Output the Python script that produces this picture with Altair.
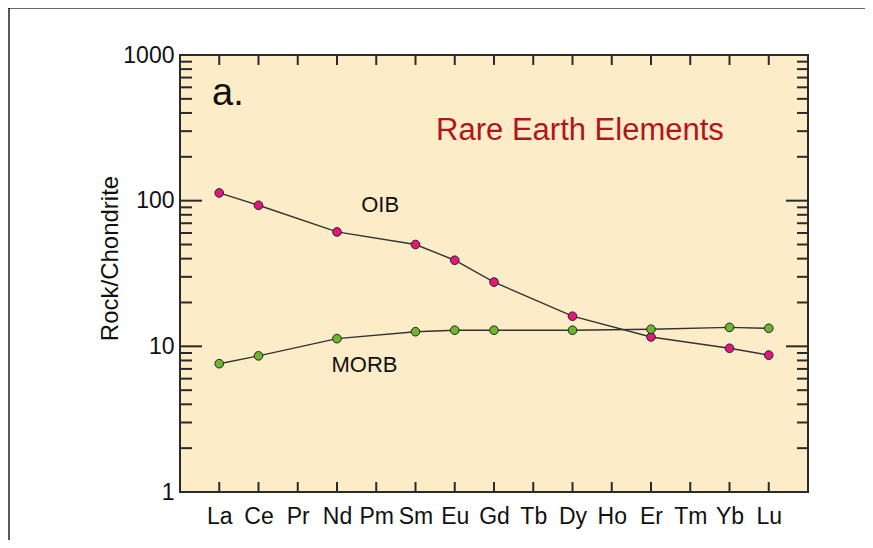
import altair as alt
import pandas as pd

# ---- data ----
elements = ["La", "Ce", "Pr", "Nd", "Pm", "Sm", "Eu", "Gd", "Tb", "Dy", "Ho", "Er", "Tm", "Yb", "Lu"]
oib_elements = ["La", "Ce", "Nd", "Sm", "Eu", "Gd", "Dy", "Er", "Yb", "Lu"]
oib_values = [113, 93, 61, 50, 39, 27.6, 16.1, 11.6, 9.7, 8.7]
morb_elements = ["La", "Ce", "Nd", "Sm", "Eu", "Gd", "Dy", "Er", "Yb", "Lu"]
morb_values = [7.6, 8.6, 11.3, 12.6, 12.9, 12.9, 12.9, 13.1, 13.5, 13.3]
series_names = ["OIB", "MORB"]
series_colors = ["#e3177f", "#6cb52e"]

y_major = [1, 10, 100, 1000]
y_minor = [m * d for d in (1, 10, 100) for m in range(2, 10)]

# annotations (position in data units)
panel_label = {"text": "a.", "x": 0.22, "y": 540}
title_label = {"text": "Rare Earth Elements", "x": 9.19, "y": 300}
series_labels_text = ["OIB", "MORB"]
series_labels_x = [4.10, 3.70]
series_labels_y = [93, 7.44]

FONT = "Liberation Sans"
W, H = 628, 437

rows = []
for e, v in zip(oib_elements, oib_values):
    rows.append({"series": "OIB", "element": e, "idx": elements.index(e), "value": v})
for e, v in zip(morb_elements, morb_values):
    rows.append({"series": "MORB", "element": e, "idx": elements.index(e), "value": v})
df = pd.DataFrame(rows)

xscale = alt.Scale(domain=[-1, 15], nice=False, zero=False)
yscale = alt.Scale(type="log", domain=[1, 1000], nice=False)

label_array = "[" + ",".join("'%s'" % e for e in elements) + "]"
xaxis = alt.Axis(values=list(range(len(elements))), labelExpr=label_array + "[datum.value]",
                 ticks=False, domain=False, grid=False, title=None,
                 labelFont=FONT, labelFontSize=23, labelColor="#111", labelPadding=13)
yaxis = alt.Axis(values=y_major, format="d", ticks=False, domain=False, grid=False,
                 title="Rock/Chondrite", titleFont=FONT, titleFontSize=24, titleFontWeight="normal",
                 titleColor="#111", titleAngle=270, titleX=-70, titleY=203,
                 titleAlign="center", titleBaseline="middle",
                 labelFont=FONT, labelFontSize=23, labelColor="#111", labelPadding=6)

X = lambda f: alt.X(f, type="quantitative", scale=xscale, axis=xaxis)
Y = lambda f: alt.Y(f, type="quantitative", scale=yscale, axis=yaxis)

tick_color = "#2a2a2a"
TW = 2
ymaj_df = pd.DataFrame({"v": y_major})
ymin_df = pd.DataFrame({"v": y_minor})
x_df = pd.DataFrame({"i": list(range(len(elements)))})

left_major = alt.Chart(ymaj_df).mark_rule(color=tick_color, strokeWidth=TW).encode(
    y=Y("v"), x=alt.value(0), x2=alt.value(22))
left_minor = alt.Chart(ymin_df).mark_rule(color=tick_color, strokeWidth=TW).encode(
    y=Y("v"), x=alt.value(0), x2=alt.value(12))
right_major = alt.Chart(ymaj_df).mark_rule(color=tick_color, strokeWidth=TW).encode(
    y=Y("v"), x=alt.value(W), x2=alt.value(W - 22))
right_minor = alt.Chart(ymin_df).mark_rule(color=tick_color, strokeWidth=TW).encode(
    y=Y("v"), x=alt.value(W), x2=alt.value(W - 11))
bottom_ticks = alt.Chart(x_df).mark_rule(color=tick_color, strokeWidth=TW).encode(
    x=X("i"), y=alt.value(H), y2=alt.value(H - 10))
top_ticks = alt.Chart(x_df).mark_rule(color=tick_color, strokeWidth=TW).encode(
    x=X("i"), y=alt.value(0), y2=alt.value(10))

lines = alt.Chart(df).mark_line(color="#333", strokeWidth=1.4).encode(
    x=X("idx"), y=Y("value"), detail="series:N", order="idx:Q")
points = alt.Chart(df).mark_point(filled=True, shape="circle", size=75, stroke="#222",
                                  strokeWidth=1, opacity=1).encode(
    x=X("idx"), y=Y("value"),
    fill=alt.Fill("series:N", scale=alt.Scale(domain=series_names, range=series_colors), legend=None))

panel_txt = alt.Chart(pd.DataFrame([panel_label])).mark_text(
    font=FONT, fontSize=38, color="#111", align="center", baseline="middle").encode(
    x=X("x"), y=Y("y"), text="text:N")
title_txt = alt.Chart(pd.DataFrame([title_label])).mark_text(
    font=FONT, fontSize=31, color="#b3141c", align="center", baseline="middle").encode(
    x=X("x"), y=Y("y"), text="text:N")
series_txt = alt.Chart(pd.DataFrame({"text": series_labels_text, "x": series_labels_x,
                                     "y": series_labels_y})).mark_text(
    font=FONT, fontSize=22, color="#111", align="center", baseline="middle").encode(
    x=X("x"), y=Y("y"), text="text:N")

one = alt.Data(values=[{}])
frame_top = alt.Chart(one).mark_rule(color="#666", strokeWidth=2).encode(
    x=alt.value(-172), x2=alt.value(W + 60), y=alt.value(-47))
frame_left = alt.Chart(one).mark_rule(color="#222", strokeWidth=1.5).encode(
    x=alt.value(-171), y=alt.value(-47), y2=alt.value(H + 60))

chart = alt.layer(
    left_major, left_minor, right_major, right_minor, bottom_ticks, top_ticks,
    lines, points, panel_txt, title_txt, series_txt, frame_top, frame_left
).properties(
    width=W, height=H,
    background="white",
    autosize=alt.AutoSizeParams(type="none"),
    padding={"left": 172, "top": 47, "right": 57, "bottom": 48},
).configure_view(
    fill="#fdecc8", stroke="#2a2a2a", strokeWidth=2
)

chart.save("out.html", embed_options={"renderer": "svg", "actions": False})
